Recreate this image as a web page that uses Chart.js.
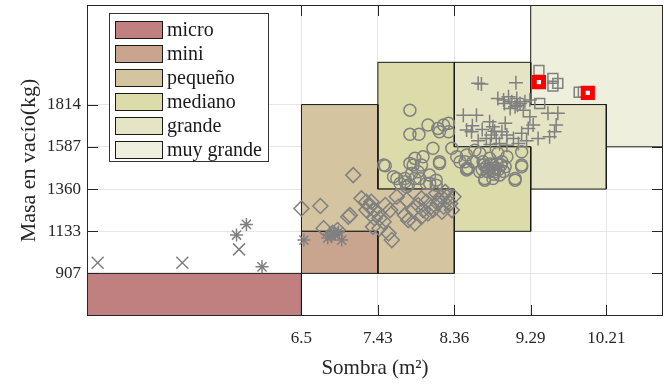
<!DOCTYPE html>
<html>
<head>
<meta charset="utf-8">
<script src="https://cdn.jsdelivr.net/npm/chart.js@4.4.1/dist/chart.umd.min.js"></script>
<style>
  html, body { margin: 0; padding: 0; background: #ffffff; }
  #wrap { width: 664px; height: 385px; }
</style>
</head>
<body>
<div id="wrap"><canvas id="c" width="664" height="385"></canvas></div>
<script>
// Axis ticks (m² and kg, i.e. 70..110 ft² and 2000..4000 lb)
const sombraTicks = [6.5, 7.43, 8.36, 9.29, 10.21];
const sombraTickLabels = ['6.5', '7.43', '8.36', '9.29', '10.21'];
const masaTicks = [907, 1133, 1360, 1587, 1814];
const masaTickLabels = ['907', '1133', '1360', '1587', '1814'];

// Category names and their regions (sombra, masa vertices)
const categorias = ['micro', 'mini', 'pequeño', 'mediano', 'grande', 'muy grande'];
const regionMicro = [[0, 0], [0, 907], [6.5, 907], [6.5, 0]];
const regionMini = [[6.5, 907], [6.5, 1133], [7.43, 1133], [7.43, 907]];
const regionPequeno = [[6.5, 1133], [6.5, 1814], [7.43, 1814], [7.43, 1360], [8.36, 1360], [8.36, 907], [7.43, 907], [7.43, 1133]];
const regionMediano = [[7.43, 1360], [7.43, 2041], [8.36, 2041], [8.36, 1587], [9.29, 1587], [9.29, 1133], [8.36, 1133], [8.36, 1360]];
const regionGrande = [[8.36, 1587], [8.36, 2041], [9.29, 2041], [9.29, 1814], [10.21, 1814], [10.21, 1360], [9.29, 1360], [9.29, 1587]];
const regionMuyGrande = [[9.29, 1814], [9.29, 3000], [12, 3000], [12, 1587], [10.21, 1587], [10.21, 1814]];

// Vehicles: [sombra m², masa kg]
const vehMicro = [[4.02, 964], [5.05, 964], [5.74, 1036]];
const vehMini = [[5.71, 1113], [5.83, 1170], [6.02, 942], [6.53, 1086], [6.82, 1097], [6.89, 1130], [6.95, 1130], [6.99, 1086], [6.91, 1118], [6.86, 1108]];
const vehPequeno = [
  [7.13, 1435], [6.50, 1256], [6.73, 1269], [6.77, 1149], [7.07, 1211], [7.09, 1220], [7.23, 1310], [7.29, 1292],
  [7.33, 1265], [7.39, 1247], [7.43, 1229], [7.45, 1203], [7.37, 1157], [7.45, 1149], [7.56, 1122], [7.60, 1086],
  [7.50, 1184], [7.58, 1247], [7.68, 1265], [7.66, 1319], [7.76, 1220], [7.78, 1301], [7.86, 1247], [7.92, 1274],
  [7.96, 1310], [7.98, 1247], [8.02, 1292], [8.14, 1337], [8.18, 1301], [8.23, 1265], [8.27, 1319], [8.31, 1283],
  [8.25, 1345], [8.35, 1319], [8.10, 1247], [8.04, 1229], [8.21, 1238], [8.33, 1247], [7.96, 1211], [7.88, 1176],
  [7.80, 1193], [7.52, 1274], [7.35, 1292], [7.29, 1247], [7.39, 1203], [8.16, 1283], [8.08, 1265], [8.20, 1320],
  [6.94, 1140], [6.88, 1125]
];
const vehMediano = [
  [7.82, 1784], [7.82, 1654], [7.93, 1654], [8.04, 1704], [8.16, 1686], [8.23, 1704], [8.29, 1713], [8.18, 1668],
  [8.29, 1668], [8.10, 1579], [7.98, 1534], [7.88, 1525], [7.86, 1489], [7.84, 1444], [7.52, 1485], [7.66, 1417],
  [7.76, 1417], [7.70, 1390], [7.80, 1381], [7.94, 1417], [8.06, 1435], [8.02, 1390], [8.14, 1381], [8.18, 1507],
  [8.33, 1579], [8.39, 1534], [8.51, 1543], [8.53, 1471], [8.61, 1569], [8.67, 1552], [8.71, 1507], [8.75, 1480],
  [8.79, 1525], [8.83, 1489], [8.85, 1453], [8.73, 1417], [8.89, 1552], [8.94, 1507], [8.98, 1480], [9.00, 1534],
  [8.91, 1435], [9.10, 1417], [9.18, 1489], [8.67, 1453], [8.59, 1507], [8.43, 1507], [7.50, 1489], [7.62, 1426],
  [7.76, 1399], [7.82, 1498], [7.96, 1489], [8.18, 1498], [8.49, 1507], [7.78, 1372], [7.88, 1417], [8.06, 1391],
  [8.14, 1408], [7.92, 1453], [9.18, 1560], [9.18, 1480], [9.10, 1408], [8.73, 1408], [8.83, 1417], [8.51, 1471],
  [8.78, 1470], [8.82, 1460], [8.86, 1475], [8.80, 1495], [8.76, 1455], [8.88, 1498], [8.72, 1490], [8.84, 1440],
  [8.90, 1465], [8.70, 1465], [8.96, 1455], [8.93, 1490], [8.51, 1462]
];
const vehGrande = [
  [8.65, 1928], [8.69, 1924], [9.11, 1931], [8.89, 1847], [8.96, 1838], [9.02, 1856], [9.06, 1829], [9.12, 1847],
  [9.16, 1820], [9.22, 1829], [9.28, 1838], [9.10, 1802], [9.20, 1784], [9.04, 1793], [8.47, 1757], [8.63, 1757],
  [8.51, 1677], [8.57, 1668], [8.79, 1722], [8.83, 1695], [8.98, 1713], [8.94, 1668], [8.81, 1650], [8.87, 1632],
  [8.75, 1632], [8.91, 1605], [9.08, 1632], [9.26, 1686], [9.32, 1704], [9.50, 1767], [9.62, 1767], [9.60, 1704],
  [9.58, 1668], [9.38, 1632], [9.52, 1641], [9.14, 1605], [9.00, 1596], [9.28, 1748], [8.97, 1820], [9.13, 1810],
  [8.58, 1700], [8.85, 1670], [9.00, 1650], [8.65, 1620], [8.80, 1600], [9.18, 1660], [9.24, 1620], [8.70, 1680]
];
const vehMuyGrande = [[9.39, 1998], [9.56, 1955], [9.56, 1913], [9.62, 1928], [9.88, 1880], [9.93, 1880], [9.40, 1820]];
const vehDestacados = [[9.39, 1935], [9.985, 1877]];

const colores = ['#c08080', '#c9a590', '#d4c4a0', '#dcdcaa', '#e5e5c5', '#efefdd'];
const regiones = [regionMicro, regionMini, regionPequeno, regionMediano, regionGrande, regionMuyGrande];
const gris = '#808080';
const serif = "'Liberation Serif', 'Times New Roman', serif";

const toXY = (arr) => arr.map(([x, y]) => ({ x, y }));
const closed = (arr) => toXY(arr.concat([arr[0]]));

const regionSets = categorias.map((nombre, i) => ({
  label: nombre,
  data: closed(regiones[i]),
  showLine: true,
  fill: 'shape',
  backgroundColor: colores[i],
  borderColor: '#1a1a1a',
  borderWidth: 1,
  pointRadius: 0,
  tension: 0,
  order: 20,
  isRegion: true
}));

const marker = (label, data, style, radius, extra) => Object.assign({
  label,
  data: toXY(data),
  pointStyle: style,
  pointRadius: radius,
  pointBorderColor: gris,
  pointBackgroundColor: 'rgba(0,0,0,0)',
  pointBorderWidth: 1.5,
  showLine: false,
  order: 5
}, extra || {});

const pointSets = [
  marker('micro-veh', vehMicro, 'crossRot', 8.5),
  marker('mini-veh', vehMini, 'star', 6.5),
  marker('pequeno-veh', vehPequeno, 'rectRot', 7.5),
  marker('mediano-veh', vehMediano, 'circle', 6),
  marker('grande-veh', vehGrande, 'cross', 7),
  marker('muygrande-veh', vehMuyGrande, 'rect', 7),
  marker('destacados', vehDestacados, 'rect', 6.5, { pointBorderColor: '#ff0000', pointBackgroundColor: '#ffffff', pointBorderWidth: 5, order: 1 })
];

// Inward tick marks and box around the plot
const axisBox = {
  id: 'axisBox',
  beforeDatasetsDraw(chart) {
    const { ctx, chartArea: a, scales } = chart;
    const len = 11;
    ctx.save();
    ctx.strokeStyle = '#262626';
    ctx.lineWidth = 1;
    ctx.beginPath();
    sombraTicks.forEach(v => {
      const px = Math.round(scales.x.getPixelForValue(v)) + 0.5;
      ctx.moveTo(px, a.bottom); ctx.lineTo(px, a.bottom - len);
      ctx.moveTo(px, a.top); ctx.lineTo(px, a.top + len);
    });
    masaTicks.forEach(v => {
      const py = Math.round(scales.y.getPixelForValue(v)) + 0.5;
      ctx.moveTo(a.left, py); ctx.lineTo(a.left + len, py);
      ctx.moveTo(a.right, py); ctx.lineTo(a.right - len, py);
    });
    ctx.stroke();
    ctx.restore();
  },
  afterDatasetsDraw(chart) {
    const { ctx, chartArea: a } = chart;
    ctx.save();
    ctx.strokeStyle = '#262626';
    ctx.lineWidth = 1;
    ctx.strokeRect(Math.round(a.left) + 0.5, Math.round(a.top) + 0.5, Math.round(a.right - a.left) - 1, Math.round(a.bottom - a.top) - 1);
    ctx.restore();
  }
};

// Legend box inside the plot area, built from the region datasets
const regionLegend = {
  id: 'regionLegend',
  afterDraw(chart) {
    const { ctx, chartArea: a } = chart;
    const sets = chart.data.datasets.filter(d => d.isRegion);
    const x0 = a.left + 22, y0 = a.top + 8;
    const w = 159, rowH = 24, h = 148;
    ctx.save();
    ctx.fillStyle = '#ffffff';
    ctx.fillRect(x0, y0, w, h);
    ctx.strokeStyle = '#333333';
    ctx.lineWidth = 1;
    ctx.strokeRect(x0 + 0.5, y0 + 0.5, w, h);
    ctx.font = '20px ' + serif;
    ctx.textBaseline = 'middle';
    sets.forEach((d, i) => {
      const cy = y0 + 17 + i * rowH;
      ctx.fillStyle = d.backgroundColor;
      ctx.fillRect(x0 + 6.5, cy - 8.5, 47, 17);
      ctx.strokeStyle = '#1a1a1a';
      ctx.strokeRect(x0 + 6.5, cy - 8.5, 47, 17);
      ctx.fillStyle = '#1a1a1a';
      ctx.fillText(d.label, x0 + 58, cy + 1);
    });
    ctx.restore();
  }
};

// Tick labels sit well inside the axis span, so no edge padding is needed
const noEdgePadding = (s) => {
  s.paddingLeft = 0; s.paddingRight = 0; s.paddingTop = 0; s.paddingBottom = 0;
};

new Chart(document.getElementById('c'), {
  type: 'scatter',
  data: { datasets: regionSets.concat(pointSets) },
  options: {
    responsive: false,
    animation: false,
    layout: { autoPadding: false, padding: { top: 5, right: 1, left: 0, bottom: 0 } },
    plugins: { legend: { display: false }, tooltip: { enabled: false } },
    scales: {
      x: {
        type: 'linear',
        min: 3.89,
        max: 10.9,
        afterFit: (s) => { s.height = 69; noEdgePadding(s); },
        afterBuildTicks: (s) => { s.ticks = sombraTicks.map(v => ({ value: v })); },
        ticks: {
          callback: (v, i) => sombraTickLabels[i],
          font: { family: serif, size: 17 },
          color: '#262626',
          padding: 12,
          maxRotation: 0,
          autoSkip: false
        },
        grid: { color: '#e6e6e6', drawTicks: false },
        border: { display: false },
        title: {
          display: true,
          text: 'Sombra (m²)',
          font: { family: serif, size: 21 },
          color: '#262626',
          padding: { top: 0, bottom: 4 }
        }
      },
      y: {
        type: 'linear',
        min: 678,
        max: 2349,
        afterFit: (s) => { s.width = 87; noEdgePadding(s); },
        afterBuildTicks: (s) => { s.ticks = masaTicks.map(v => ({ value: v })); },
        ticks: {
          callback: (v, i) => masaTickLabels[i],
          font: { family: serif, size: 17 },
          color: '#262626',
          padding: 6,
          autoSkip: false
        },
        grid: { color: '#e6e6e6', drawTicks: false },
        border: { display: false },
        title: {
          display: true,
          text: 'Masa en vacío(kg)',
          font: { family: serif, size: 22 },
          color: '#262626',
          padding: { top: 16, bottom: 0 }
        }
      }
    }
  },
  plugins: [axisBox, regionLegend]
});
</script>
</body>
</html>
